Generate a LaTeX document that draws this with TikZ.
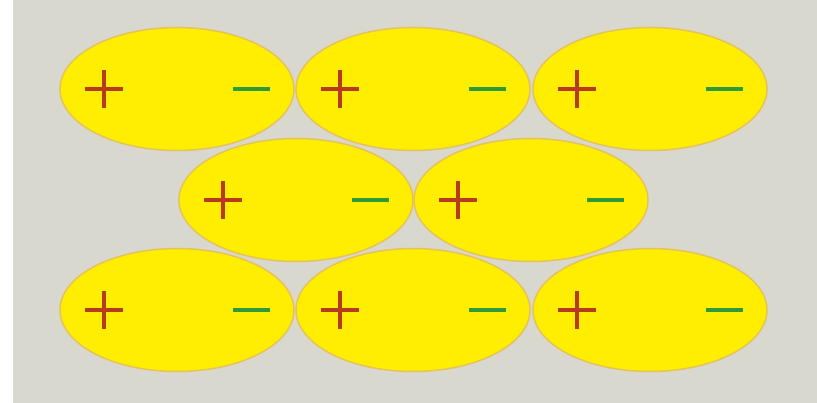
\documentclass[tikz,border=0pt]{standalone}
\definecolor{bg}{HTML}{D8D8CF}
\definecolor{cellfill}{HTML}{FFEE00}
\definecolor{celledge}{HTML}{E5C25A}
\definecolor{plusc}{HTML}{B83A1E}
\definecolor{minusc}{HTML}{2E9A3A}
\tikzset{
  cell/.style={ellipse, fill=cellfill, draw=celledge, line width=1.5pt, minimum width=234pt, minimum height=123pt, inner sep=0pt},
  pluss/.style={plusc, line width=3.5pt},
  minuss/.style={minusc, line width=3.5pt}
}
\usetikzlibrary{shapes.geometric}
\begin{document}
\begin{tikzpicture}[x=1pt,y=-1pt]
\fill[white] (0,0) rectangle (817,403);
\fill[bg] (13,0) rectangle (817,403);
\useasboundingbox (0,0) rectangle (817,403);
\foreach \n/\x/\y in {a/177/89, b/413/89, c/650/89, d/296/200, e/531/200, f/177/310, g/413/310, h/650/310}{
  \node[cell] (\n) at (\x,\y) {};
  \draw[pluss] ([xshift=-92pt]\n.center) -- ([xshift=-54pt]\n.center);
  \draw[pluss] ([xshift=-73pt,yshift=19pt]\n.center) -- ([xshift=-73pt,yshift=-19pt]\n.center);
  \draw[minuss] ([xshift=56pt]\n.center) -- ([xshift=93pt]\n.center);
}
\end{tikzpicture}
\end{document}
